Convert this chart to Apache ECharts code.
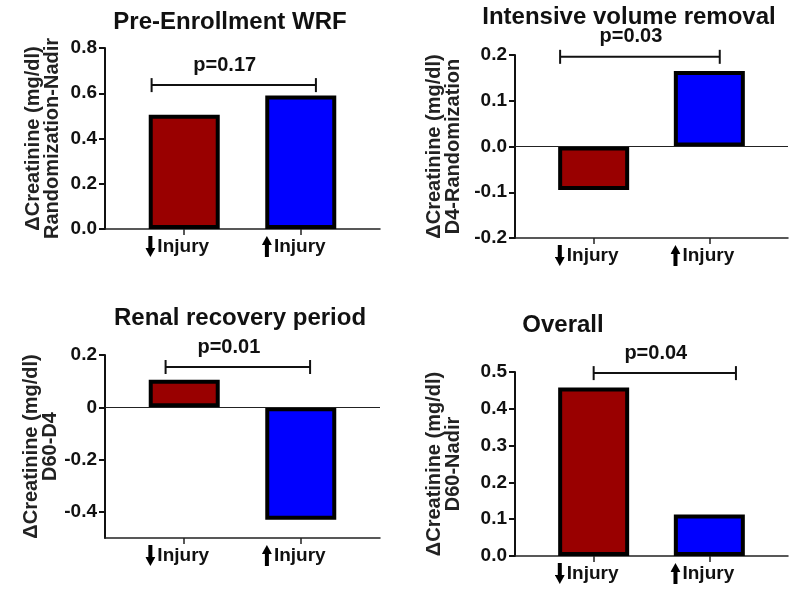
<!DOCTYPE html>
<html>
<head>
<meta charset="utf-8">
<script src="https://cdn.jsdelivr.net/npm/echarts@6/dist/echarts.min.js"></script>
<style>
html, body { margin: 0; padding: 0; background: #fff; }
#main { width: 800px; height: 594px; }
</style>
</head>
<body>
<div id="main"></div>
<script>
// ---- data ----
var groups = ['down', 'up'];
var barColors = ['#990000', '#0000ff'];
var titles = ['Pre-Enrollment WRF', 'Intensive volume removal', 'Renal recovery period', 'Overall'];
var yNames = ['Randomization-Nadir', 'D4-Randomization', 'D60-D4', 'D60-Nadir'];
var wrfValues = [0.505, 0.59];
var volumeValues = [-0.095, 0.165];
var recoveryValues = [0.105, -0.43];
var overallValues = [0.458, 0.113];
var pValues = ['p=0.17', 'p=0.03', 'p=0.01', 'p=0.04'];
var yMin = [0, -0.2, -0.5, 0];
var yMax = [0.8, 0.2, 0.2, 0.5];
var yTicks = [
    [0, 0.2, 0.4, 0.6, 0.8],
    [-0.2, -0.1, 0, 0.1, 0.2],
    [-0.4, -0.2, 0, 0.2],
    [0, 0.1, 0.2, 0.3, 0.4, 0.5]
];
var yTickLabels = [
    ['0.0', '0.2', '0.4', '0.6', '0.8'],
    ['-0.2', '-0.1', '0.0', '0.1', '0.2'],
    ['-0.4', '-0.2', '0', '0.2'],
    ['0.0', '0.1', '0.2', '0.3', '0.4', '0.5']
];
// significance bracket: [from x, to x, y]
var brackets = [
    [-0.28, 1.13, 0.636],
    [-0.29, 1.09, 0.196],
    [-0.16, 1.08, 0.154],
    [0.0, 1.23, 0.497]
];
var allValues = [wrfValues, volumeValues, recoveryValues, overallValues];

// ---- layout ----
var font = '"Liberation Sans", Arial, sans-serif';
var grids = [
    { left: 105, top: 48, width: 275, height: 181 },
    { left: 515, top: 55, width: 273, height: 183 },
    { left: 105, top: 355, width: 275, height: 183 },
    { left: 515, top: 372, width: 273, height: 184 }
];
var titlePos = [[230, 22], [629, 17], [240, 318], [563, 325]];
var nameGaps = [43, 52, 43, 52];

var svgDown = '<svg xmlns="http://www.w3.org/2000/svg" width="10" height="21" viewBox="0 0 10 21">' +
    '<rect x="3" y="0" width="4" height="13" fill="#000"/><polygon points="0,12 10,12 5,21" fill="#000"/></svg>';
var svgUp = '<svg xmlns="http://www.w3.org/2000/svg" width="10" height="21" viewBox="0 0 10 21">' +
    '<rect x="3" y="8" width="4" height="13" fill="#000"/><polygon points="0,9 10,9 5,0" fill="#000"/></svg>';
var imgDown = 'data:image/svg+xml;utf8,' + encodeURIComponent(svgDown);
var imgUp = 'data:image/svg+xml;utf8,' + encodeURIComponent(svgUp);

var makeBracket = function(i) {
    return function(params, api) {
        var a = api.coord([api.value(0), api.value(2)]);
        var b = api.coord([api.value(1), api.value(2)]);
        var st = { stroke: '#111', lineWidth: 2 };
        return {
            type: 'group',
            children: [
                { type: 'line', shape: { x1: a[0], y1: a[1], x2: b[0], y2: b[1] }, style: st },
                { type: 'line', shape: { x1: a[0], y1: a[1] - 7, x2: a[0], y2: a[1] + 7 }, style: st },
                { type: 'line', shape: { x1: b[0], y1: b[1] - 7, x2: b[0], y2: b[1] + 7 }, style: st },
                {
                    type: 'text',
                    style: {
                        text: pValues[i], x: (a[0] + b[0]) / 2 - 9, y: a[1] - 20,
                        align: 'center', verticalAlign: 'middle',
                        font: 'bold 20px ' + font, fill: '#111'
                    }
                }
            ]
        };
    };
};

var option = { animation: false, backgroundColor: '#fff', title: [], grid: [], xAxis: [], yAxis: [], series: [] };

for (var i = 0; i < 4; i++) {
    option.title.push({
        text: titles[i], left: titlePos[i][0], top: titlePos[i][1],
        textAlign: 'center', textVerticalAlign: 'middle', padding: 0,
        textStyle: { fontFamily: font, fontWeight: 'bold', fontSize: 24, color: '#111' }
    });
    option.grid.push(grids[i]);
    option.xAxis.push({
        type: 'value', gridIndex: i, min: -0.68, max: 1.68,
        splitLine: { show: false },
        axisLine: { onZero: false, lineStyle: { color: '#222', width: 1.5 } },
        axisTick: { customValues: [0, 1], length: 6, lineStyle: { color: '#222', width: 1.5 } },
        axisLabel: {
            customValues: [0, 1], margin: 7,
            formatter: function(v) {
                return (groups[Math.round(v)] === 'down' ? '{dn|}' : '{up|}') + '{t|Injury}';
            },
            rich: {
                dn: { width: 10, height: 21, backgroundColor: { image: imgDown } },
                up: { width: 10, height: 21, backgroundColor: { image: imgUp } },
                t: { fontFamily: font, fontWeight: 'bold', fontSize: 19, color: '#111', padding: [0, 14, 0, 2] }
            }
        }
    });
    (function(idx) {
        option.yAxis.push({
            type: 'value', gridIndex: idx, min: yMin[idx], max: yMax[idx],
            splitLine: { show: false },
            name: 'ΔCreatinine (mg/dl)\n' + yNames[idx],
            nameLocation: 'middle', nameRotate: 90, nameGap: nameGaps[idx],
            nameTextStyle: { fontFamily: font, fontWeight: 'bold', fontSize: 20, color: '#222', lineHeight: 19 },
            axisLine: { show: true, onZero: false, lineStyle: { color: '#111', width: 2 } },
            axisTick: { show: true, customValues: yTicks[idx], length: 6, lineStyle: { color: '#111', width: 2 } },
            axisLabel: {
                customValues: yTicks[idx], margin: 8,
                fontFamily: font, fontWeight: 'bold', fontSize: 19, color: '#111',
                formatter: function(v) {
                    for (var k = 0; k < yTicks[idx].length; k++) {
                        if (Math.abs(yTicks[idx][k] - v) < 1e-9) return yTickLabels[idx][k];
                    }
                    return '';
                }
            }
        });
    })(i);
    var bar = {
        type: 'bar', xAxisIndex: i, yAxisIndex: i, barWidth: 71,
        itemStyle: { borderColor: '#000', borderWidth: 4 },
        data: allValues[i].map(function(v, k) {
            return { value: [k, v], itemStyle: { color: barColors[k] } };
        })
    };
    if (yMin[i] < 0) {
        bar.markLine = {
            silent: true, symbol: 'none', label: { show: false },
            lineStyle: { color: '#222', width: 1.2, type: 'solid' },
            data: [{ yAxis: 0 }]
        };
    }
    option.series.push(bar);
    option.series.push({
        type: 'custom', xAxisIndex: i, yAxisIndex: i, clip: false, silent: true,
        encode: { x: [0, 1], y: 2 },
        renderItem: makeBracket(i),
        data: [brackets[i]]
    });
}

var chart = echarts.init(document.getElementById('main'));
chart.setOption(option);
</script>
</body>
</html>
